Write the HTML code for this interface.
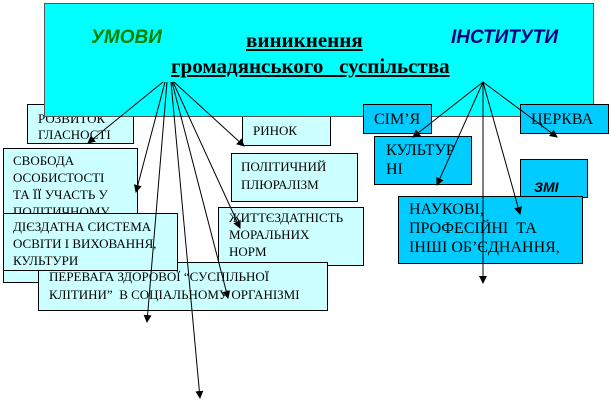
<!DOCTYPE html>
<html><head><meta charset="utf-8"><style>
body{margin:0;width:611px;height:401px;background:#fff;position:relative;overflow:hidden;font-family:"Liberation Serif","DejaVu Serif",serif;}
.b{position:absolute;border:1px solid #000;box-sizing:border-box;font-size:13px;line-height:16px;color:#000;overflow:hidden;white-space:nowrap;}
.l{background:#ccffff;}
.d{background:#00ccff;font-size:16px;line-height:19px;}
#h{position:absolute;left:44px;top:3px;width:550px;height:114px;background:#00ffff;border:1px solid #555;box-sizing:border-box;}
.t{position:absolute;font-weight:bold;font-size:21px;white-space:nowrap;}
</style></head><body>
<div class="b l" style="left:27px;top:104px;width:107px;height:40px;padding:0 0 0 10px;"><div style="margin-top:6px">РОЗВИТОК<br>ГЛАСНОСТІ</div></div>
<div class="b l" style="left:242px;top:104px;width:89px;height:42px;padding:18px 0 0 10px;">РИНОК</div>
<div id="h">
<div class="t" style="left:46px;top:23px;color:#008000;font-family:'Liberation Sans',sans-serif;font-style:italic;font-size:19px;">УМОВИ</div>
<div class="t" style="left:201px;top:24px;text-decoration:underline;">виникнення</div>
<div class="t" style="left:406px;top:23px;color:#000080;font-family:'Liberation Sans',sans-serif;font-style:italic;font-size:19px;">ІНСТИТУТИ</div>
<div class="t" style="left:126px;top:50px;text-decoration:underline;">громадянського &nbsp;&nbsp;суспільства</div>
</div>
<div class="b l" style="left:3px;top:148px;width:135px;height:135px;padding:3px 0 0 9px;line-height:17px;">СВОБОДА<br>ОСОБИСТОСТІ<br>ТА ЇЇ УЧАСТЬ У<br>ПОЛІТИЧНОМУ</div>
<div class="b l" style="left:231px;top:153px;width:127px;height:49px;padding:4px 0 0 9px;line-height:18px;">ПОЛІТИЧНИЙ<br>ПЛЮРАЛІЗМ</div>
<div class="b l" style="left:218px;top:207px;width:146px;height:59px;padding:1px 0 0 10px;line-height:17px;">ЖИТТЄЗДАТНІСТЬ<br>МОРАЛЬНИХ<br>НОРМ</div>
<div class="b l" style="left:38px;top:262px;width:290px;height:49px;padding:5px 0 0 10px;line-height:18px;">ПЕРЕВАГА ЗДОРОВОЇ “СУСПІЛЬНОЇ<br>КЛІТИНИ” &nbsp;В СОЦІАЛЬНОМУ ОРГАНІЗМІ</div>
<div class="b l" style="left:3px;top:213px;width:175px;height:58px;padding:4px 0 0 9px;line-height:17px;">ДІЄЗДАТНА СИСТЕМА<br>ОСВІТИ І ВИХОВАННЯ,<br>КУЛЬТУРИ</div>
<div class="b d" style="left:363px;top:104px;width:69px;height:30px;padding:5px 0 0 10px;">СІМ’Я</div>
<div class="b d" style="left:520px;top:104px;width:89px;height:30px;padding:5px 0 0 10px;">ЦЕРКВА</div>
<div class="b d" style="left:374px;top:136px;width:98px;height:49px;padding:4px 0 0 11px;">КУЛЬТУР<br>НІ</div>
<div class="b d" style="left:520px;top:159px;width:68px;height:39px;padding:18px 0 0 13px;font-family:'Liberation Sans',sans-serif;font-weight:bold;font-style:italic;font-size:14px;">ЗМІ</div>
<div class="b d" style="left:398px;top:196px;width:185px;height:68px;padding:3px 0 0 10px;">НАУКОВІ,<br>ПРОФЕСІЙНІ &nbsp;ТА<br>ІНШІ ОБ’ЄДНАННЯ,</div>
<svg width="611" height="401" style="position:absolute;left:0;top:0" >
<defs><marker id="a" markerWidth="8" markerHeight="8" refX="7" refY="4" orient="auto" markerUnits="userSpaceOnUse"><path d="M0,0L8,4L0,8z" fill="#000"/></marker></defs>
<g stroke="#000" stroke-width="1" fill="none" marker-end="url(#a)">
<line x1="163" y1="82" x2="88" y2="143"/>
<line x1="165" y1="82" x2="136" y2="192"/>
<line x1="167" y1="82" x2="147" y2="322"/>
<line x1="171" y1="82" x2="200" y2="398"/>
<line x1="172" y1="82" x2="228" y2="298"/>
<line x1="173" y1="82" x2="240" y2="228"/>
<line x1="174" y1="82" x2="244" y2="146"/>
<line x1="483" y1="82" x2="413" y2="137"/>
<line x1="483" y1="82" x2="437" y2="185"/>
<line x1="483" y1="82" x2="483" y2="283"/>
<line x1="483" y1="82" x2="520" y2="214"/>
<line x1="483" y1="82" x2="557" y2="137"/>
</g></svg>
</body></html>
